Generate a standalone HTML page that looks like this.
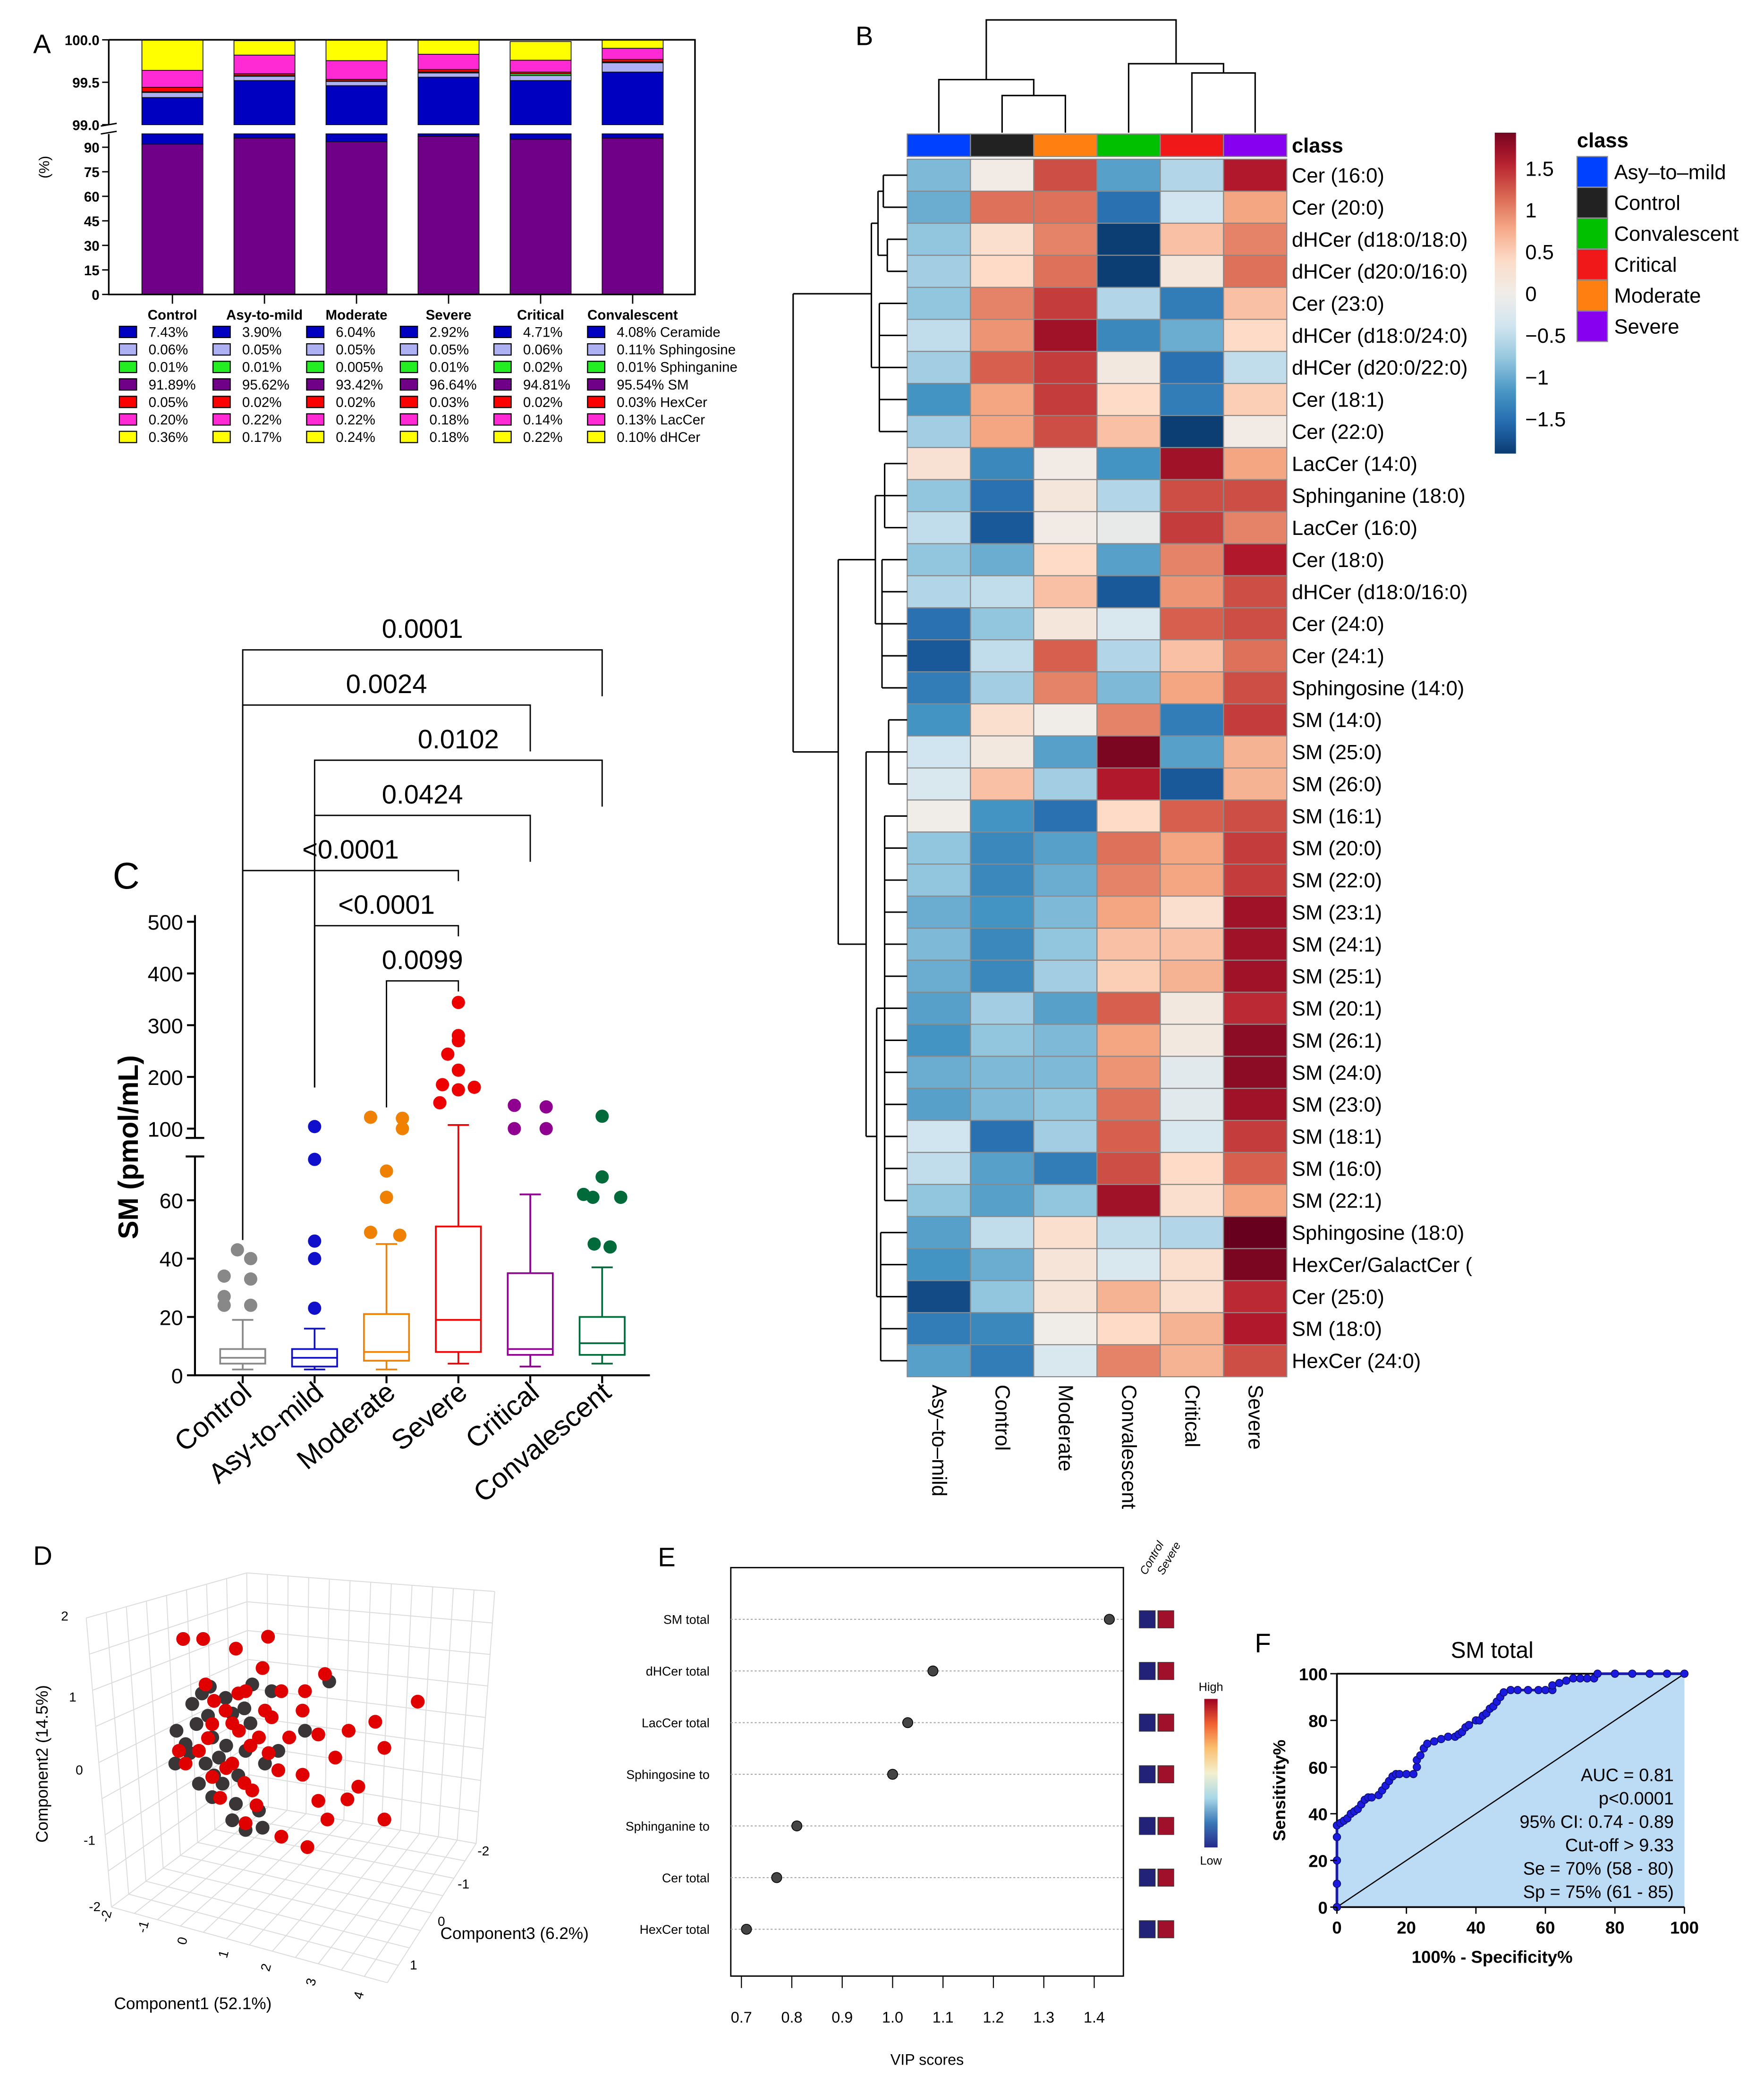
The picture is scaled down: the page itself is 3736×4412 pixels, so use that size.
<!DOCTYPE html>
<html><head><meta charset="utf-8">
<style>
html,body{margin:0;padding:0;background:#fff;}
svg{display:block;font-family:"Liberation Sans",Arial,sans-serif;}
</style></head>
<body>
<svg id="fig" xmlns="http://www.w3.org/2000/svg" width="3736" height="4412" viewBox="0 0 1330 1570.6">
<rect x="0" y="0" width="1330" height="1571" fill="#fff"/>
<g id="A"></g>
<g id="B"></g>
<g id="C"></g>
<g id="D"></g>
<g id="E"></g>
<g id="F"></g>
</svg>
<script>
// ---------- DATA ----------
const groupsA = ["Control","Asy-to-mild","Moderate","Severe","Critical","Convalescent"];
const smPct = [91.89,95.62,93.42,96.64,94.81,95.54];
const ceramidePct = [7.43,3.90,6.04,2.92,4.71,4.08];
const sphingosinePct = [0.06,0.05,0.05,0.05,0.06,0.11];
const sphinganinePct = [0.01,0.01,0.005,0.01,0.02,0.01];
const hexcerPct = [0.05,0.02,0.02,0.03,0.02,0.03];
const laccerPct = [0.20,0.22,0.22,0.18,0.14,0.13];
const dhcerPct = [0.36,0.17,0.24,0.18,0.22,0.10];
const lowTicksA = [0,15,30,45,60,75,90];
const highTicksA = [99.0,99.5,100.0];

const heatCols = ["Asy\u2013to\u2013mild","Control","Moderate","Convalescent","Critical","Severe"];
const heatRows = ["Cer (16:0)","Cer (20:0)","dHCer (d18:0/18:0)","dHCer (d20:0/16:0)","Cer (23:0)","dHCer (d18:0/24:0)","dHCer (d20:0/22:0)","Cer (18:1)","Cer (22:0)","LacCer (14:0)","Sphinganine (18:0)","LacCer (16:0)","Cer (18:0)","dHCer (d18:0/16:0)","Cer (24:0)","Cer (24:1)","Sphingosine (14:0)","SM (14:0)","SM (25:0)","SM (26:0)","SM (16:1)","SM (20:0)","SM (22:0)","SM (23:1)","SM (24:1)","SM (25:1)","SM (20:1)","SM (26:1)","SM (24:0)","SM (23:0)","SM (18:1)","SM (16:0)","SM (22:1)","Sphingosine (18:0)","HexCer/GalactCer (","Cer (25:0)","SM (18:0)","HexCer (24:0)"];
const heatVals = [
[-0.9,0.05,1.3,-1.1,-0.6,1.6],[-1.0,1.1,1.1,-1.5,-0.4,0.8],[-0.8,0.3,1.0,-1.9,0.6,1.0],[-0.7,0.4,1.1,-1.9,0.15,1.1],
[-0.8,1.0,1.4,-0.6,-1.4,0.6],[-0.5,0.9,1.7,-1.3,-1.0,0.4],[-0.7,1.2,1.4,0.1,-1.5,-0.5],[-1.2,0.8,1.4,0.4,-1.4,0.5],
[-0.7,0.8,1.3,0.6,-1.9,0.05],[0.25,-1.3,0.05,-1.2,1.7,0.8],[-0.8,-1.5,0.15,-0.6,1.3,1.3],[-0.5,-1.7,0.05,-0.1,1.4,1.0],
[-0.8,-1.0,0.4,-1.1,1.0,1.6],[-0.6,-0.5,0.6,-1.7,0.9,1.3],[-1.5,-0.8,0.15,-0.3,1.2,1.3],[-1.7,-0.5,1.2,-0.6,0.6,1.1],
[-1.4,-0.7,1.0,-0.9,0.8,1.3],[-1.2,0.3,0.0,1.0,-1.4,1.4],[-0.4,0.1,-1.1,1.9,-1.1,0.7],[-0.3,0.6,-0.7,1.6,-1.7,0.7],
[0.0,-1.2,-1.5,0.4,1.2,1.3],[-0.8,-1.3,-1.1,1.1,0.8,1.4],[-0.8,-1.3,-1.0,1.0,0.8,1.4],[-1.0,-1.2,-0.9,0.8,0.3,1.7],
[-0.9,-1.3,-0.8,0.6,0.6,1.7],[-1.0,-1.3,-0.7,0.5,0.7,1.7],[-1.1,-0.7,-1.1,1.2,0.1,1.5],[-1.2,-0.8,-0.9,0.8,0.1,1.8],
[-1.0,-0.9,-0.9,0.9,-0.2,1.8],[-1.1,-0.9,-0.8,1.1,-0.2,1.7],[-0.4,-1.5,-0.7,1.2,-0.3,1.4],[-0.5,-1.1,-1.4,1.3,0.4,1.2],
[-0.8,-1.1,-0.8,1.7,0.3,0.8],[-1.1,-0.5,0.3,-0.5,-0.6,2.0],[-1.2,-1.0,0.2,-0.3,0.3,1.9],[-1.8,-0.8,0.2,0.7,0.3,1.5],
[-1.4,-1.3,0.0,0.4,0.7,1.6],[-1.1,-1.4,-0.3,1.0,0.7,1.3]];
const classNames = ["Asy\u2013to\u2013mild","Control","Convalescent","Critical","Moderate","Severe"];
const classColors = ["#0040ff","#222222","#00c000","#f01818","#ff8010","#8800f0"];
const colClassColors = ["#0040ff","#222222","#ff8010","#00c000","#f01818","#8800f0"];
const cbarTicks = [1.5,1,0.5,0,-0.5,-1,-1.5];

const groupsC = ["Control","Asy-to-mild","Moderate","Severe","Critical","Convalescent"];
const colorsC = ["#888888","#1010cc","#f08000","#ee0000","#900090","#006a3a"];
const whiskLo = [2,2,2,4,3,4];
const q1 = [4,3,5,8,7,7];
const med = [6,6,8,19,9,11];
const q3 = [9,9,21,51,35,20];
const whiskHi = [19,16,45,107,62,37];
const outliers = [[43,40,34,33,27,24,24],[104,74,46,40,23],[122,120,100,70,61,49,48],[344,280,270,244,213,185,180,175,150],[145,142,100,100],[124,68,62,61,61,45,44]];
const outOffsets = [[-4,6,-14,6,-14,-14,6],[0,0,0,0,0],[-12,12,12,0,0,-12,10],[0,0,0,-8,0,-12,12,0,-14],[-12,12,-12,12],[0,0,-14,-7,14,-6,6]];
const lowTicksC = [0,20,40,60];
const highTicksC = [100,200,300,400,500];
const bracketL = [0,0,1,1,0,1,2];
const bracketR = [5,4,5,4,3,3,3];
const bracketP = ["0.0001","0.0024","0.0102","0.0424","<0.0001","<0.0001","0.0099"];

const redC1 = [-0.51,-0.18,0.36,0.89,0.80,1.50,1.83,3.36,-0.14,0.52,1.11,1.46,0.19,1.72,2.22,2.66,2.81,2.00,1.24,0.95,0.74,0.41,-0.03,-0.25,-0.58,1.06,1.46,1.72,2.20,1.87,2.38,2.81,1.11,1.54,0.52,-0.03,0.30,0.63,-0.47,0.84,0.0,0.3,0.6,0.2,0.5,-0.1,0.9,0.4,0.1,0.7];
const redC2 = [1.63,1.63,1.50,1.66,1.24,0.93,1.16,0.79,1.02,0.93,0.93,0.67,0.67,0.35,0.40,0.52,0.17,0.04,0.31,0.58,0.31,0.40,0.49,0.13,0.13,-0.13,-0.19,-0.54,-0.52,-0.79,-0.35,-0.79,-1.02,-1.16,-0.84,-0.22,-0.04,-0.40,-0.04,0.67,0.8,0.5,0.2,-0.1,-0.3,0.3,0.1,0.9,-0.5,-0.6];
const grayC1 = [-0.07,0.19,0.63,0.95,1.90,-0.36,-0.03,0.30,-0.62,-0.47,-0.14,-0.64,0.14,0.36,0.52,-0.03,0.74,1.06,-0.25,0.52,0.84,0.08,-0.29,1.50,-0.1,0.2,0.4,0.0,-0.4,0.6,0.3,-0.2,0.8,0.5];
const grayC2 = [0.99,0.84,1.02,0.93,1.06,0.76,0.31,0.63,0.40,0.22,-0.04,-0.04,-0.31,-0.58,-0.93,-0.49,-0.67,0.13,-0.31,0.13,-0.04,0.04,0.49,0.40,0.6,0.2,-0.2,-0.2,0.1,0.5,-0.8,0.9,-0.9,0.7];

const vipNames = ["SM total","dHCer total","LacCer total","Sphingosine to","Sphinganine to","Cer total","HexCer total"];
const vipScores = [1.43,1.08,1.03,1.00,0.81,0.77,0.71];
const vipTicks = [0.7,0.8,0.9,1.0,1.1,1.2,1.3,1.4];

const rocFpr = [0,0,0,0,0,1,2,3,4,5,6,7,8,9,10,12,13,14,15,16,17,18,20,22,23,23,24,25,26,28,30,32,34,35,36,37,38,40,41,42,43,44,45,46,47,48,50,52,55,58,60,62,62,64,66,68,70,72,74,75,80,85,90,95,100];
const rocTpr = [0,10,20,30,35,36,37,38,40,41,42,44,46,47,47,48,50,52,54,56,57,57,57,57,60,63,65,68,70,71,72,73,73,74,75,77,78,80,80,82,83,85,86,88,90,92,93,93,93,93,93,93,95,96,97,98,98,98,98,100,100,100,100,100,100];
const rocTicks = [0,20,40,60,80,100];
const rocStats = ["AUC = 0.81","p<0.0001","95% CI:  0.74 - 0.89","Cut-off > 9.33","Se = 70% (58 - 80)","Sp = 75% (61 - 85)"];

// ---------- HELPERS ----------
const NS="http://www.w3.org/2000/svg";
function mk(tag, attrs, parent){const e=document.createElementNS(NS,tag);for(const k in attrs)e.setAttribute(k,attrs[k]);parent.appendChild(e);return e;}
function txt(parent,x,y,s,size,opts){const o=Object.assign({x:x,y:y,'font-size':size,fill:'#000'},opts||{});const e=mk('text',o,parent);e.textContent=s;return e;}

// ---------- PANEL A ----------
(function(){
const g=document.getElementById('A');
let t=txt(g,25,40,"A",20);


const xA=i=>130+i*69.4, bw=46;
const yHi=v=>30+(100-v)*64;
const yLo=v=>222-v*1.2333;
const stacks=[smPct,ceramidePct,sphingosinePct,sphinganinePct,hexcerPct,laccerPct,dhcerPct];
const cols=["#700088","#0000c0","#aeb0f4","#22ee22","#ff0000","#ff2ad4","#ffff00"];
const names=["SM","Ceramide","Sphingosine","Sphinganine","HexCer","LacCer","dHCer"];
groupsA.forEach((gname,i)=>{
  let cum=0;
  stacks.forEach((arr,k)=>{
    const a=cum,b=cum+arr[i];cum=b;
    const la=Math.max(a,0),lb=Math.min(b,98.2);
    if(lb>la){const r=mk('rect',{x:xA(i)-bw/2,y:yLo(lb),width:bw,height:yLo(la)-yLo(lb),fill:cols[k],stroke:'#111','stroke-width':0.6},g);
      
      }
    const ha=Math.max(a,99),hb=Math.min(b,100);
    if(hb>ha){const r=mk('rect',{x:xA(i)-bw/2,y:yHi(hb),width:bw,height:yHi(ha)-yHi(hb),fill:cols[k],stroke:'#111','stroke-width':0.6},g);
      
      }
  });
  const tk=mk('line',{x1:xA(i),x2:xA(i),y1:222,y2:229,stroke:'#000','stroke-width':1},g);
  
  
  const h=txt(g,xA(i),241,gname,10.5,{'text-anchor':'middle','font-weight':'bold'});
  
  
  const vals=[ceramidePct,sphingosinePct,sphinganinePct,smPct,hexcerPct,laccerPct,dhcerPct];
  const lc=["#0000c0","#aeb0f4","#22ee22","#700088","#ff0000","#ff2ad4","#ffff00"];
  const ln=["Ceramide","Sphingosine","Sphinganine","SM","HexCer","LacCer","dHCer"];
  vals.forEach((arr,k)=>{
    const bx=90+i*70.6, by=246+k*13.2;
    const r=mk('rect',{x:bx,y:by,width:13,height:8.5,fill:lc[k],stroke:'#000','stroke-width':0.8},g);
    
    
    let s;
    if(arr[i]===0.005)s="0.005%";else s=arr[i].toFixed(2)+"%";
    const tt=txt(g,bx+22,by+8,s+(i===5?"  "+ln[k]:""),10.5);
    
    
  });
});
let ax=mk('path',{d:'M82,30 V94 M82,101 V222 H524 V30 H82',fill:'none',stroke:'#000','stroke-width':1.2},g);


let br=mk('path',{d:'M76,95 L88,93 M76,101 L88,99',fill:'none',stroke:'#000','stroke-width':1},g);


lowTicksA.forEach(v=>{const l=mk('line',{x1:77,x2:82,y1:yLo(v),y2:yLo(v),stroke:'#000'},g);
 
 
 const tt=txt(g,75,yLo(v)+4,String(v),10.5,{'text-anchor':'end','font-weight':'bold'});
 
 });
highTicksA.forEach(v=>{const l=mk('line',{x1:77,x2:82,y1:yHi(v),y2:yHi(v),stroke:'#000'},g);
 
 
 const tt=txt(g,75,yHi(v)+4,v.toFixed(1),10.5,{'text-anchor':'end','font-weight':'bold'});
 
 });
let yl=txt(g,0,0,"(%)",11,{'text-anchor':'middle',transform:'translate(37,126) rotate(-90)'});


})();

// ---------- PANEL B ----------
(function(){
const g=document.getElementById('B');
let t=txt(g,645,34,"B",20);


const x0=684,cw=47.7,y0=120,rh=24.16;
const stops=[[-2,[5,48,97]],[-1.6,[33,102,172]],[-1.2,[67,147,195]],[-0.8,[146,197,222]],[-0.4,[209,229,240]],[0,[240,236,232]],[0.4,[253,219,199]],[0.8,[244,165,130]],[1.2,[214,96,77]],[1.6,[178,24,43]],[2,[103,0,31]]];
function cmap(v){v=Math.max(-2,Math.min(2,v));for(let i=0;i<stops.length-1;i++){const [a,ca]=stops[i],[b,cb]=stops[i+1];if(v<=b){const f=(v-a)/(b-a);return 'rgb('+ca.map((c,j)=>Math.round(c+(cb[j]-c)*f)).join(',')+')';}}return 'rgb(103,0,31)';}
heatVals.forEach((row,r)=>{row.forEach((v,c)=>{
  const e=mk('rect',{x:x0+c*cw,y:y0+r*rh,width:cw,height:rh,fill:cmap(v),stroke:'#8a8a8a','stroke-width':0.8},g);
  
  });
  const l=txt(g,974,y0+r*rh+rh/2+5.5,heatRows[r],15.5);
  
  
});
heatCols.forEach((c,i)=>{
  const e=mk('rect',{x:x0+i*cw,y:101,width:cw,height:17,fill:colClassColors[i],stroke:'#8a8a8a','stroke-width':0.8},g);
  
  
  const l=txt(g,0,0,c,15.5,{transform:'translate('+(x0+i*cw+cw/2-5)+',1044) rotate(90)'});
  
  
});
let cl=txt(g,974,115,"class",15.5,{'font-weight':'bold'});


const cx=i=>x0+i*cw+cw/2;
const m1=(cx(1)+cx(2))/2,m2=(cx(0)+m1)/2,m3=(cx(4)+cx(5))/2,m4=(cx(3)+m3)/2;
let d=`M${cx(1)},100V72H${cx(2)}V100 M${cx(0)},100V60H${m1}V72 M${cx(4)},100V55H${cx(5)}V100 M${cx(3)},100V48H${m3}V55 M${m2},60V15H${m4}V48`;
let dg=mk('path',{d:d,fill:'none',stroke:'#000','stroke-width':1.1},g);


const ry=i=>y0+i*rh+rh/2;
let p='';
p+=`M666,${ry(0)}V${ry(1)}`;
for(let i=0;i<=8;i++)p+=`M684,${ry(i)}H${i<2?666:(i<4?669:663)}`;
p+=`M669,${ry(2)}V${ry(3)}M663,${ry(4)}V${ry(8)}M666,${(ry(0)+ry(1))/2}H662 M669,${(ry(2)+ry(3))/2}H662 M662,${(ry(0)+ry(1))/2}V${(ry(2)+ry(3))/2}`;
p+=`M662,${ry(1.5)}H657 M663,${ry(6)}H657 M657,${ry(1.5)}V${ry(6)}`;
for(let i=9;i<=16;i++)p+=`M684,${ry(i)}H${i<12?667:665}`;
p+=`M667,${ry(9)}V${ry(11)}M665,${ry(12)}V${ry(16)}M667,${ry(10)}H660M665,${ry(14)}H660M660,${ry(10)}V${ry(14)}`;
for(let i=17;i<=37;i++)p+=`M684,${ry(i)}H${i<20?670:(i<33?667:664)}`;
p+=`M670,${ry(17)}V${ry(19)}M667,${ry(20)}V${ry(32)}M664,${ry(33)}V${ry(37)}M667,${ry(26)}H661M664,${ry(35)}H661M661,${ry(26)}V${ry(35)}M670,${ry(18)}H653M661,${ry(30)}H653M653,${ry(18)}V${ry(30)}`;
p+=`M660,${ry(12)}H632M653,${ry(24)}H632M632,${ry(12)}V${ry(24)}`;
p+=`M657,${ry(3.7)}H598M632,${ry(18)}H598M598,${ry(3.7)}V${ry(18)}`;
let ld=mk('path',{d:p,fill:'none',stroke:'#000','stroke-width':1.1},g);


const defs=mk('defs',{},g);
const lg=mk('linearGradient',{id:'cbg',x1:0,y1:1,x2:0,y2:0},defs);
for(let k=0;k<=20;k++){const v=-1.92+k*3.84/20;mk('stop',{offset:(k/20),'stop-color':cmap(v)},lg);}
let cb=mk('rect',{x:1127,y:100,width:16,height:242,fill:'url(#cbg)'},g);


cbarTicks.forEach(v=>{const tt=txt(g,1150,221-v*63+6,(v<0?'\u2212'+Math.abs(v):String(v)),15.5);
 
 });
let ct=txt(g,1189,111,"class",15.5,{'font-weight':'bold'});


classNames.forEach((c,i)=>{const r=mk('rect',{x:1189,y:118+i*23.3,width:23,height:23,fill:classColors[i],stroke:'#8a8a8a','stroke-width':0.8},g);
 
 
 const tt=txt(g,1217,135+i*23.3,c,15.5);
 
 });
})();

// ---------- PANEL C ----------
(function(){
const g=document.getElementById('C');
let t=txt(g,85,670,"C",28);


const xC=i=>183+i*54.2, bw=34;
const yV=v=>v<=80?1037-v*2.2:851-(v-100)*0.39;
let ax=mk('path',{d:'M147,690V858 M147,872V1037H490',fill:'none',stroke:'#000','stroke-width':1.5},g);


let bk=mk('path',{d:'M140,858H154M140,872H154',stroke:'#000','stroke-width':1.5},g);


lowTicksC.forEach(v=>{const l=mk('line',{x1:141,x2:147,y1:yV(v),y2:yV(v),stroke:'#000','stroke-width':1.5},g);
 
 
 const tt=txt(g,138,yV(v)+6,String(v),16,{'text-anchor':'end'});
 
 });
highTicksC.forEach(v=>{const l=mk('line',{x1:141,x2:147,y1:yV(v),y2:yV(v),stroke:'#000','stroke-width':1.5},g);
 
 
 const tt=txt(g,138,yV(v)+6,String(v),16,{'text-anchor':'end'});
 
 });
let yl=txt(g,0,0,"SM (pmol/mL)",21,{'font-weight':'bold','text-anchor':'middle',transform:'translate(104,865) rotate(-90)'});


groupsC.forEach((gn,i)=>{
  const x=xC(i),c=colorsC[i];
  const tk=mk('line',{x1:x,x2:x,y1:1037,y2:1043,stroke:'#000','stroke-width':1.5},g);
  
  
  const wl=mk('path',{d:`M${x},${yV(whiskLo[i])}V${yV(q1[i])}M${x},${yV(q3[i])}V${yV(whiskHi[i])}M${x-8},${yV(whiskLo[i])}H${x+8}M${x-8},${yV(whiskHi[i])}H${x+8}`,stroke:c,'stroke-width':1.3,fill:'none'},g);
  
  
  const b=mk('rect',{x:x-bw/2,y:yV(q3[i]),width:bw,height:yV(q1[i])-yV(q3[i]),fill:'none',stroke:c,'stroke-width':1.3},g);
  
  
  const m=mk('line',{x1:x-bw/2,x2:x+bw/2,y1:yV(med[i]),y2:yV(med[i]),stroke:c,'stroke-width':1.3},g);
  
  
  outliers[i].forEach((v,k)=>{const p=mk('circle',{cx:x+outOffsets[i][k],cy:yV(v),r:5,fill:c},g);
    
    });
  const lab=txt(g,0,0,gn,21,{'text-anchor':'end',transform:`translate(${x+8},1052) rotate(-40)`});
  
  
});
bracketP.forEach((p,k)=>{
  const yb=490+k*41.6, xl=xC(bracketL[k]), xr=xC(bracketR[k]);
  const yl2=bracketL[k]===0?935:(bracketL[k]===1?820:835);
  const br=mk('path',{d:`M${xl},${yl2}V${yb}H${xr}V${bracketR[k]===3?yb+8:yb+35}`,fill:'none',stroke:'#000','stroke-width':1},g);
  
  
  const tt=txt(g,(xl+xr)/2,yb-9,p,20,{'text-anchor':'middle'});
  
  
});
})();

// ---------- PANEL D ----------
(function(){
const g=document.getElementById('D');
let t=txt(g,25,1180,"D",20);


const P={tl:[65,1220],tb:[186,1186],tr:[373,1200],bl:[84,1438],bb:[188,1360],br:[359,1390],bf:[292,1495]};
const lerp=(a,b,f)=>[a[0]+(b[0]-a[0])*f,a[1]+(b[1]-a[1])*f];
let d='';
function grid(a,b,c,dd,n,m){for(let i=0;i<=n;i++){const p=lerp(a,b,i/n),q=lerp(dd,c,i/n);d+=`M${p[0]},${p[1]}L${q[0]},${q[1]}`;}
 for(let j=0;j<=m;j++){const p=lerp(a,dd,j/m),q=lerp(b,c,j/m);d+=`M${p[0]},${p[1]}L${q[0]},${q[1]}`;}}
grid(P.tl,P.tb,P.bb,P.bl,8,8);
grid(P.tb,P.tr,P.br,P.bb,12,8);
grid(P.bl,P.bb,P.br,P.bf,8,12);
let gr=mk('path',{d:d,fill:'none',stroke:'#dcdcdc','stroke-width':0.7},g);


const xs=v=>70+(v+2)*45.7, ys=v=>1327.5-v*56.25;
grayC1.forEach((v,i)=>{const c=mk('circle',{cx:xs(v),cy:ys(grayC2[i]),r:5.2,fill:'#3a3536'},g);
 
 });
redC1.forEach((v,i)=>{const c=mk('circle',{cx:xs(v),cy:ys(redC2[i]),r:5.2,fill:'#e00000'},g);
 
 });
const c2l=[["2",46,1222],["1",52,1283],["0",57,1338],["-1",63,1391],["-2",67,1441]];
c2l.forEach(a=>{const tt=txt(g,a[1],a[2],a[0],10);});
const c1l=[["-2",82,1450],["-1",110,1458],["0",140,1467],["1",171,1477],["2",203,1487],["3",237,1498],["4",273,1508]];
c1l.forEach(a=>{const tt=txt(g,0,0,a[0],10,{transform:`translate(${a[1]},${a[2]}) rotate(-75)`});});
const c3l=[["-2",360,1399],["-1",345,1424],["0",330,1452],["1",309,1485]];
c3l.forEach(a=>{const tt=txt(g,a[1],a[2],a[0],10);});
let a1=txt(g,86,1515,"Component1 (52.1%)",12.5);
let a2=txt(g,0,0,"Component2 (14.5%)",12.5,{'text-anchor':'middle',transform:'translate(36,1330) rotate(-90)'});
let a3=txt(g,332,1462,"Component3 (6.2%)",12.5);
})();

// ---------- PANEL E ----------
(function(){
const g=document.getElementById('E');
let t=txt(g,496,1181,"E",20);


const xv=v=>559+(v-0.7)*380, yr=i=>1221+i*38.95;
let fr=mk('rect',{x:551,y:1182,width:296,height:308,fill:'none',stroke:'#000','stroke-width':1},g);


vipNames.forEach((n,i)=>{
  const l=mk('line',{x1:551,x2:847,y1:yr(i),y2:yr(i),stroke:'#aaa','stroke-width':0.8,'stroke-dasharray':'1.5,1.5'},g);
  
  
  const c=mk('circle',{cx:xv(vipScores[i]),cy:yr(i),r:3.8,fill:'#444',stroke:'#000','stroke-width':0.6},g);
  
  
  const tt=txt(g,535,yr(i)+3.5,n,9.5,{'text-anchor':'end'});
  
  
  const b1=mk('rect',{x:859,y:yr(i)-6.5,width:12,height:13,fill:'#222278',stroke:'#333','stroke-width':0.5},g);
  
  
  const b2=mk('rect',{x:873,y:yr(i)-6.5,width:12,height:13,fill:'#a0102a',stroke:'#333','stroke-width':0.5},g);
  
  
});
vipTicks.forEach(v=>{const l=mk('line',{x1:xv(v),x2:xv(v),y1:1490,y2:1499,stroke:'#000','stroke-width':0.8},g);
 
 
 const tt=txt(g,xv(v),1525,v.toFixed(1),11.5,{'text-anchor':'middle'});
 
 });
let xt=txt(g,699,1557,"VIP scores",11.5,{'text-anchor':'middle'});


let h1=txt(g,0,0,"Control",8.5,{'font-style':'italic',transform:'translate(864,1188) rotate(-60)'});

let h2=txt(g,0,0,"Severe",8.5,{'font-style':'italic',transform:'translate(877,1188) rotate(-60)'});

const defs=mk('defs',{},g);
const lg=mk('linearGradient',{id:'vipg',x1:0,y1:1,x2:0,y2:0},defs);
["#262a8c","#3a78b8","#a9d8e8","#f3f0d0","#fbc070","#f06030","#a00020"].forEach((c,k)=>mk('stop',{offset:k/6,'stop-color':c},lg));
let gb=mk('rect',{x:908,y:1281,width:10,height:112,fill:'url(#vipg)'},g);


let hi=txt(g,913,1275,"High",9,{'text-anchor':'middle'});
let lo=txt(g,913,1406,"Low",9,{'text-anchor':'middle'});
})();

// ---------- PANEL F ----------
(function(){
const g=document.getElementById('F');
let t=txt(g,946,1246,"F",20);


const xf=v=>1008+v*2.62, yf=v=>1438-v*1.76;
let area='M'+xf(0)+','+yf(0);
rocFpr.forEach((v,i)=>{area+=`L${xf(v)},${yf(rocTpr[i])}`;});
area+=`L${xf(100)},${yf(0)}Z`;
let ar=mk('path',{d:area,fill:'#bcdcf5',stroke:'none'},g);


let dg=mk('line',{x1:xf(0),y1:yf(0),x2:xf(100),y2:yf(100),stroke:'#000','stroke-width':0.9},g);


let ax=mk('path',{d:`M${xf(0)},${yf(100)}H${xf(100)}M${xf(0)},${yf(100)}V${yf(0)}H${xf(100)}`,fill:'none',stroke:'#000','stroke-width':1.3},g);


let ln='M'+xf(rocFpr[0])+','+yf(rocTpr[0]);
rocFpr.forEach((v,i)=>{ln+=`L${xf(v)},${yf(rocTpr[i])}`;});
let rl=mk('path',{d:ln,fill:'none',stroke:'#1a1ab0','stroke-width':2},g);


rocFpr.forEach((v,i)=>{const c=mk('circle',{cx:xf(v),cy:yf(rocTpr[i]),r:2.8,fill:'#1a1ae0',stroke:'#101070','stroke-width':0.6},g);
 
 });
rocTicks.forEach(v=>{
 const a=mk('line',{x1:xf(v),x2:xf(v),y1:yf(0),y2:yf(0)+5,stroke:'#000'},g);
 
 const b=txt(g,xf(v),1458,String(v),13,{'text-anchor':'middle','font-weight':'bold'});
 
 const c=mk('line',{x1:xf(0)-5,x2:xf(0),y1:yf(v),y2:yf(v),stroke:'#000'},g);
 
 const d=txt(g,1001,yf(v)+5,String(v),13,{'text-anchor':'end','font-weight':'bold'});
 
});
let tt=txt(g,1125,1250,"SM total",17,{'text-anchor':'middle'});

let xt=txt(g,1125,1480,"100% - Specificity%",13,{'text-anchor':'middle','font-weight':'bold'});

let yt=txt(g,0,0,"Sensitivity%",13,{'text-anchor':'middle','font-weight':'bold',transform:'translate(969,1350) rotate(-90)'});

rocStats.forEach((s,i)=>{const e=txt(g,1262,1343+i*17.6,s,13.5,{'text-anchor':'end'});
 });
})();
</script>
</body></html>
